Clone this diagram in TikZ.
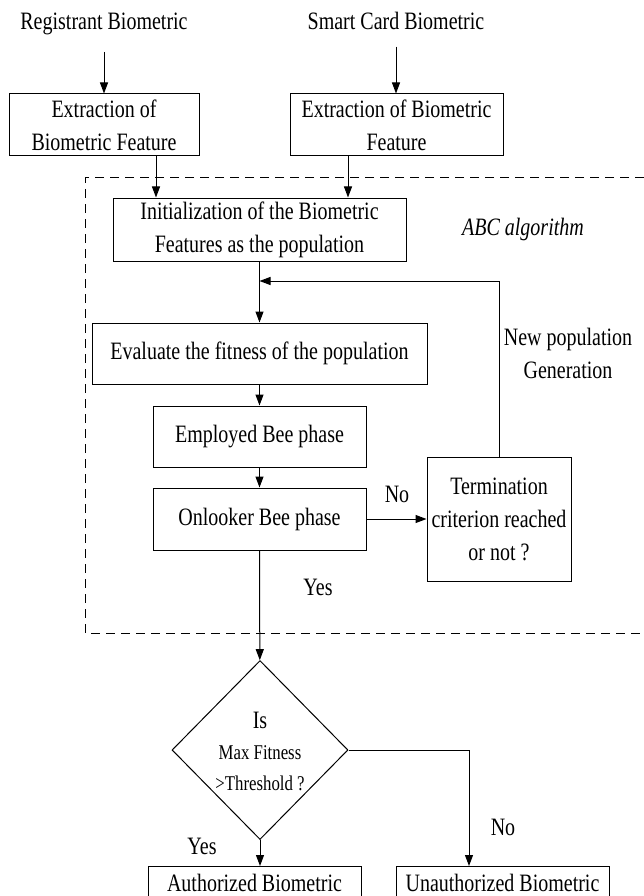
\documentclass[tikz,border=0pt]{standalone}
\usepackage{fontspec}
\setmainfont{Liberation Serif}[FakeStretch=0.8]
\usetikzlibrary{arrows.meta,shapes.geometric}

\begin{document}
\begin{tikzpicture}[x=1pt,y=-1pt,line width=1pt,
	font=\fontsize{25}{33}\selectfont,
	blk/.style={draw,rectangle,align=center,inner sep=0pt},
	txt/.style={align=center,inner sep=0pt},
	arr/.style={-{Triangle[length=11pt,width=8pt]}}]
	\useasboundingbox (0,0) rectangle (644,896);
	\draw[dash pattern=on 9pt off 6pt] (644,178) -| (85,633) -- (644,633);
	\node (reg) at (104,30) [txt,anchor=base] {Registrant Biometric};
	\node (smart) at (396,30) [txt,anchor=base] {Smart Card Biometric};
	\node (ext1) at (104,125) [blk,minimum width=190,minimum height=62] {Extraction of\\Biometric Feature};
	\node (ext2) at (396.5,125) [blk,minimum width=213,minimum height=62] {Extraction of Biometric\\Feature};
	\node (init) at (259.5,229.5) [blk,minimum width=293,minimum height=63] {Initialization of the Biometric\\Features as the population};
	\node (abc) at (523,229) [txt] {\itshape ABC algorithm};
	\node (eval) at (259.5,353.5) [blk,minimum width=335,minimum height=61] {Evaluate the fitness of the population};
	\node (emp) at (259.5,436.5) [blk,minimum width=213,minimum height=61] {Employed Bee phase};
	\node (onl) at (259.5,519) [blk,minimum width=213,minimum height=62] {Onlooker Bee phase};
	\node (term) at (499,519) [blk,minimum width=144,minimum height=124] {Termination\\criterion reached\\or not ?};
	\node (newpop) at (568,353) [txt] {New population\\Generation};
	\node (no1) at (397,494) [txt] {No};
	\node (yes1) at (318,587) [txt] {Yes};
	\node (dia) at (260,750) [draw,diamond,inner sep=0pt,minimum width=176,minimum height=179] {};
	\node (diatxt) at (260,751) [txt,font=\fontsize{21}{31}\selectfont] {{\fontsize{25}{30}\selectfont Is}\\Max Fitness\\>Threshold ?};
	\node (yes2) at (202,846) [txt] {Yes};
	\node (no2) at (503,827) [txt] {No};
	\node (auth) at (254.5,866) [blk,anchor=north,minimum width=213,minimum height=33] {Authorized Biometric};
	\node (unauth) at (502.5,866) [blk,anchor=north,minimum width=213,minimum height=33] {Unauthorized Biometric};
	\coordinate (fb) at (259.5,281);
	% connectors
	\draw[arr,shorten <=16pt] (reg) -- (reg |- ext1.north);
	\draw[arr,shorten <=16pt] (smart) -- (smart |- ext2.north);
	\draw[arr] ([xshift=52pt]ext1.south) -- ([xshift=52pt]ext1.south |- init.north);
	\draw[arr] ([xshift=-48.5pt]ext2.south) -- ([xshift=-48.5pt]ext2.south |- init.north);
	\draw[arr] (init) -- (eval);
	\draw[arr] (term.north) |- (fb);
	\draw[arr] (eval) -- (emp);
	\draw[arr] (emp) -- (onl);
	\draw[arr] (onl) -- (term);
	\draw[arr] (onl) -- (dia);
	\draw[arr] (dia.south) -- (dia.south |- auth.north);
	\draw[arr] (dia.east) -| ([xshift=-33.5pt]unauth.north);
\end{tikzpicture}
\end{document}
